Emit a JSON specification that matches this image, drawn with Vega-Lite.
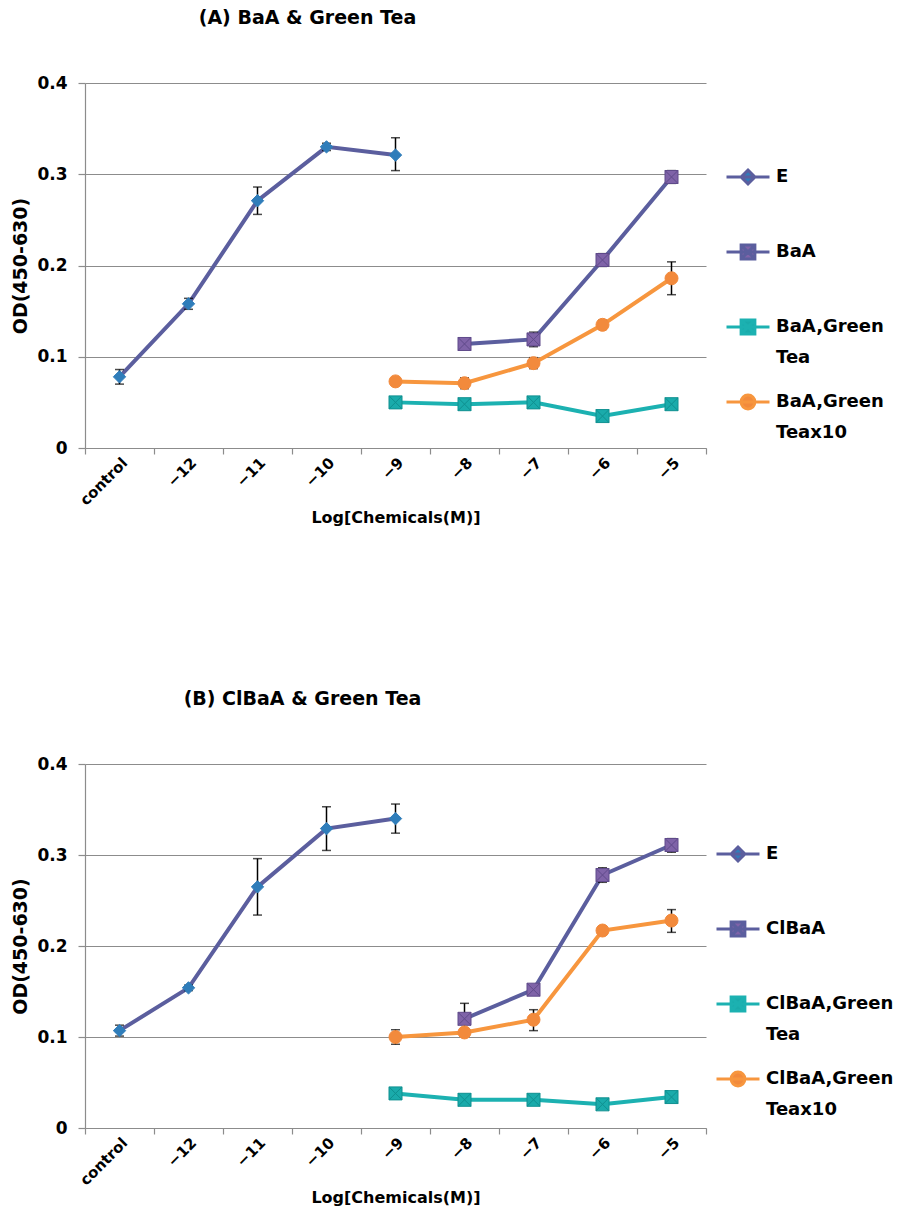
{
  "$schema": "https://vega.github.io/schema/vega-lite/v6.json",
  "padding": {"left": 11, "top": 9, "right": 0, "bottom": 0},
  "background": "white",
  "spacing": 164,
  "datasets": {
    "A": [
      {"x": "control", "s": "E", "v": 0.078, "lo": 0.070, "hi": 0.086},
      {"x": "−12", "s": "E", "v": 0.158, "lo": 0.152, "hi": 0.164},
      {"x": "−11", "s": "E", "v": 0.271, "lo": 0.256, "hi": 0.286},
      {"x": "−10", "s": "E", "v": 0.330, "lo": 0.326, "hi": 0.334},
      {"x": "−9", "s": "E", "v": 0.321, "lo": 0.304, "hi": 0.340},
      {"x": "−8", "s": "BaA", "v": 0.114, "lo": null, "hi": null},
      {"x": "−7", "s": "BaA", "v": 0.119, "lo": 0.111, "hi": 0.127},
      {"x": "−6", "s": "BaA", "v": 0.206, "lo": 0.199, "hi": 0.213},
      {"x": "−5", "s": "BaA", "v": 0.297, "lo": 0.290, "hi": 0.304},
      {"x": "−9", "s": "BaA,Green Tea", "v": 0.050, "lo": null, "hi": null},
      {"x": "−8", "s": "BaA,Green Tea", "v": 0.048, "lo": null, "hi": null},
      {"x": "−7", "s": "BaA,Green Tea", "v": 0.050, "lo": null, "hi": null},
      {"x": "−6", "s": "BaA,Green Tea", "v": 0.035, "lo": null, "hi": null},
      {"x": "−5", "s": "BaA,Green Tea", "v": 0.048, "lo": null, "hi": null},
      {"x": "−9", "s": "BaA,Green Teax10", "v": 0.073, "lo": null, "hi": null},
      {"x": "−8", "s": "BaA,Green Teax10", "v": 0.071, "lo": 0.065, "hi": 0.077},
      {"x": "−7", "s": "BaA,Green Teax10", "v": 0.093, "lo": 0.087, "hi": 0.099},
      {"x": "−6", "s": "BaA,Green Teax10", "v": 0.135, "lo": 0.130, "hi": 0.140},
      {"x": "−5", "s": "BaA,Green Teax10", "v": 0.186, "lo": 0.168, "hi": 0.204}
    ],
    "B": [
      {"x": "control", "s": "E", "v": 0.107, "lo": 0.101, "hi": 0.113},
      {"x": "−12", "s": "E", "v": 0.154, "lo": 0.151, "hi": 0.157},
      {"x": "−11", "s": "E", "v": 0.265, "lo": 0.234, "hi": 0.296},
      {"x": "−10", "s": "E", "v": 0.329, "lo": 0.305, "hi": 0.353},
      {"x": "−9", "s": "E", "v": 0.340, "lo": 0.324, "hi": 0.356},
      {"x": "−8", "s": "ClBaA", "v": 0.120, "lo": 0.105, "hi": 0.137},
      {"x": "−7", "s": "ClBaA", "v": 0.152, "lo": null, "hi": null},
      {"x": "−6", "s": "ClBaA", "v": 0.278, "lo": 0.270, "hi": 0.286},
      {"x": "−5", "s": "ClBaA", "v": 0.311, "lo": 0.303, "hi": 0.318},
      {"x": "−9", "s": "ClBaA,Green Tea", "v": 0.038, "lo": null, "hi": null},
      {"x": "−8", "s": "ClBaA,Green Tea", "v": 0.031, "lo": null, "hi": null},
      {"x": "−7", "s": "ClBaA,Green Tea", "v": 0.031, "lo": null, "hi": null},
      {"x": "−6", "s": "ClBaA,Green Tea", "v": 0.026, "lo": null, "hi": null},
      {"x": "−5", "s": "ClBaA,Green Tea", "v": 0.034, "lo": null, "hi": null},
      {"x": "−9", "s": "ClBaA,Green Teax10", "v": 0.100, "lo": 0.092, "hi": 0.108},
      {"x": "−8", "s": "ClBaA,Green Teax10", "v": 0.105, "lo": null, "hi": null},
      {"x": "−7", "s": "ClBaA,Green Teax10", "v": 0.119, "lo": 0.107, "hi": 0.130},
      {"x": "−6", "s": "ClBaA,Green Teax10", "v": 0.217, "lo": 0.212, "hi": 0.222},
      {"x": "−5", "s": "ClBaA,Green Teax10", "v": 0.228, "lo": 0.215, "hi": 0.240}
    ]
  },
  "vconcat": [
    {
      "data": {"name": "A"},
      "width": 621,
      "height": 365,
      "title": {"text": "(A) BaA & Green Tea", "anchor": "middle", "frame": "group", "dx": -88, "offset": 46, "font": "DejaVu Sans", "fontSize": 19, "fontWeight": "bold", "color": "black"},
      "encoding": {
        "x": {"field": "x", "type": "nominal", "scale": {"type": "band", "paddingInner": 0, "paddingOuter": 0, "domain": ["control", "−12", "−11", "−10", "−9", "−8", "−7", "−6", "−5"]},
          "axis": {"title": "Log[Chemicals(M)]", "labelAngle": -45, "tickBand": "extent", "grid": false, "tickSize": 6, "labelFontSize": 15, "titleFontSize": 16, "labelPadding": 1, "titlePadding": 2}},
        "y": {"field": "v", "type": "quantitative", "scale": {"domain": [0, 0.4], "nice": false},
          "axis": {"title": "OD(450-630)", "values": [0, 0.1, 0.2, 0.3, 0.4], "labelExpr": "datum.value == 0 ? '0' : format(datum.value, '.1f')", "tickSize": 7, "labelPadding": 11, "labelFontSize": 17, "titleFontSize": 19, "titlePadding": 6}}
      },
      "resolve": {"scale": {"shape": "independent", "fill": "independent", "stroke": "independent"}, "legend": {"shape": "independent", "fill": "independent", "stroke": "independent"}},
      "layer": [
        {
          "mark": {"type": "line", "strokeWidth": 4},
          "encoding": {"stroke": {"field": "s", "type": "nominal", "scale": {"domain": ["E", "BaA", "BaA,Green Tea", "BaA,Green Teax10"], "range": ["#5B5E9E", "#5B5E9E", "#1CB1B1", "#F7963E"]}, "legend": null}}
        },
        {
          "transform": [{"filter": "isValid(datum.lo)"}],
          "mark": {"type": "errorbar", "ticks": {"size": 9, "color": "black", "thickness": 1.5}, "rule": {"color": "black", "strokeWidth": 1.5}},
          "encoding": {"y": {"field": "lo", "type": "quantitative"}, "y2": {"field": "hi"}}
        },
        {
          "mark": {"type": "point", "filled": true, "size": 169, "strokeWidth": 1, "opacity": 1},
          "encoding": {
            "shape": {"field": "s", "type": "nominal", "scale": {"domain": ["E", "BaA", "BaA,Green Tea", "BaA,Green Teax10"], "range": ["M0,-0.95L0.95,0L0,0.95L-0.95,0Z", "M-1,-1H1V1H-1ZM-1,-1L1,1M1,-1L-1,1", "M-1,-1H1V1H-1ZM-1,-1L1,1M1,-1L-1,1", "circle"]}, "legend": null},
            "fill": {"field": "s", "type": "nominal", "scale": {"domain": ["E", "BaA", "BaA,Green Tea", "BaA,Green Teax10"], "range": ["#2F7DBA", "#7F63A8", "#1AABAB", "#F28A3C"]}, "legend": null},
            "stroke": {"field": "s", "type": "nominal", "scale": {"domain": ["E", "BaA", "BaA,Green Tea", "BaA,Green Teax10"], "range": ["#2F7DBA", "#5F4A8A", "#0F9090", "#F28A3C"]}, "legend": null}
          }
        },
        {
          "transform": [{"filter": "datum.v < -1"}],
          "mark": {"type": "point", "filled": true, "size": 1849, "strokeWidth": 3, "opacity": 1},
          "encoding": {
            "shape": {"field": "s", "type": "nominal", "scale": {"domain": ["E", "BaA", "BaA,Green Tea", "BaA,Green Teax10"], "range": ["M-1,0H1M0,-0.32L0.32,0L0,0.32L-0.32,0Z", "M-1,0H1M-0.32,-0.32H0.32V0.32H-0.32ZM-0.32,-0.32L0.32,0.32M0.32,-0.32L-0.32,0.32", "M-1,0H1M-0.32,-0.32H0.32V0.32H-0.32ZM-0.32,-0.32L0.32,0.32M0.32,-0.32L-0.32,0.32", "M-1,0H1M-0.32,0A0.32,0.32 0 1,0 0.32,0A0.32,0.32 0 1,0 -0.32,0Z"]},
              "legend": {"title": null, "orient": "none", "legendX": 640, "legendY": 71, "padding": 0, "rowPadding": 12, "labelOffset": 5, "labelFont": "DejaVu Sans", "labelFontWeight": "bold", "labelFontSize": 18, "labelColor": "black", "labelLimit": 300, "symbolSize": 1849, "symbolStrokeWidth": 3, "labelExpr": "datum.label == 'BaA,Green Tea' ? ['BaA,Green', 'Tea'] : datum.label == 'BaA,Green Teax10' ? ['BaA,Green', 'Teax10'] : [datum.label, '']"}},
            "fill": {"field": "s", "type": "nominal", "scale": {"domain": ["E", "BaA", "BaA,Green Tea", "BaA,Green Teax10"], "range": ["#2F7DBA", "#7F63A8", "#1AABAB", "#F28A3C"]},
              "legend": {"title": null, "orient": "none", "legendX": 640, "legendY": 71, "padding": 0, "rowPadding": 12, "labelOffset": 5, "labelFont": "DejaVu Sans", "labelFontWeight": "bold", "labelFontSize": 18, "labelColor": "black", "labelLimit": 300, "symbolSize": 1849, "symbolStrokeWidth": 3, "labelExpr": "datum.label == 'BaA,Green Tea' ? ['BaA,Green', 'Tea'] : datum.label == 'BaA,Green Teax10' ? ['BaA,Green', 'Teax10'] : [datum.label, '']"}},
            "stroke": {"field": "s", "type": "nominal", "scale": {"domain": ["E", "BaA", "BaA,Green Tea", "BaA,Green Teax10"], "range": ["#5B5E9E", "#5B5E9E", "#1CB1B1", "#F7963E"]},
              "legend": {"title": null, "orient": "none", "legendX": 640, "legendY": 71, "padding": 0, "rowPadding": 12, "labelOffset": 5, "labelFont": "DejaVu Sans", "labelFontWeight": "bold", "labelFontSize": 18, "labelColor": "black", "labelLimit": 300, "symbolSize": 1849, "symbolStrokeWidth": 3, "labelExpr": "datum.label == 'BaA,Green Tea' ? ['BaA,Green', 'Tea'] : datum.label == 'BaA,Green Teax10' ? ['BaA,Green', 'Teax10'] : [datum.label, '']"}}
          }
        }
      ]
    },
    {
      "data": {"name": "B"},
      "width": 621,
      "height": 364,
      "title": {"text": "(B) ClBaA & Green Tea", "anchor": "middle", "frame": "group", "dx": -93, "offset": 46, "font": "DejaVu Sans", "fontSize": 19, "fontWeight": "bold", "color": "black"},
      "encoding": {
        "x": {"field": "x", "type": "nominal", "scale": {"type": "band", "paddingInner": 0, "paddingOuter": 0, "domain": ["control", "−12", "−11", "−10", "−9", "−8", "−7", "−6", "−5"]},
          "axis": {"title": "Log[Chemicals(M)]", "labelAngle": -45, "tickBand": "extent", "grid": false, "tickSize": 6, "labelFontSize": 15, "titleFontSize": 16, "labelPadding": 1, "titlePadding": 2}},
        "y": {"field": "v", "type": "quantitative", "scale": {"domain": [0, 0.4], "nice": false},
          "axis": {"title": "OD(450-630)", "values": [0, 0.1, 0.2, 0.3, 0.4], "labelExpr": "datum.value == 0 ? '0' : format(datum.value, '.1f')", "tickSize": 7, "labelPadding": 11, "labelFontSize": 17, "titleFontSize": 19, "titlePadding": 6}}
      },
      "resolve": {"scale": {"shape": "independent", "fill": "independent", "stroke": "independent"}, "legend": {"shape": "independent", "fill": "independent", "stroke": "independent"}},
      "layer": [
        {
          "mark": {"type": "line", "strokeWidth": 4},
          "encoding": {"stroke": {"field": "s", "type": "nominal", "scale": {"domain": ["E", "ClBaA", "ClBaA,Green Tea", "ClBaA,Green Teax10"], "range": ["#5B5E9E", "#5B5E9E", "#1CB1B1", "#F7963E"]}, "legend": null}}
        },
        {
          "transform": [{"filter": "isValid(datum.lo)"}],
          "mark": {"type": "errorbar", "ticks": {"size": 9, "color": "black", "thickness": 1.5}, "rule": {"color": "black", "strokeWidth": 1.5}},
          "encoding": {"y": {"field": "lo", "type": "quantitative"}, "y2": {"field": "hi"}}
        },
        {
          "mark": {"type": "point", "filled": true, "size": 169, "strokeWidth": 1, "opacity": 1},
          "encoding": {
            "shape": {"field": "s", "type": "nominal", "scale": {"domain": ["E", "ClBaA", "ClBaA,Green Tea", "ClBaA,Green Teax10"], "range": ["M0,-0.95L0.95,0L0,0.95L-0.95,0Z", "M-1,-1H1V1H-1ZM-1,-1L1,1M1,-1L-1,1", "M-1,-1H1V1H-1ZM-1,-1L1,1M1,-1L-1,1", "circle"]}, "legend": null},
            "fill": {"field": "s", "type": "nominal", "scale": {"domain": ["E", "ClBaA", "ClBaA,Green Tea", "ClBaA,Green Teax10"], "range": ["#2F7DBA", "#7F63A8", "#1AABAB", "#F28A3C"]}, "legend": null},
            "stroke": {"field": "s", "type": "nominal", "scale": {"domain": ["E", "ClBaA", "ClBaA,Green Tea", "ClBaA,Green Teax10"], "range": ["#2F7DBA", "#5F4A8A", "#0F9090", "#F28A3C"]}, "legend": null}
          }
        },
        {
          "transform": [{"filter": "datum.v < -1"}],
          "mark": {"type": "point", "filled": true, "size": 1849, "strokeWidth": 3, "opacity": 1},
          "encoding": {
            "shape": {"field": "s", "type": "nominal", "scale": {"domain": ["E", "ClBaA", "ClBaA,Green Tea", "ClBaA,Green Teax10"], "range": ["M-1,0H1M0,-0.32L0.32,0L0,0.32L-0.32,0Z", "M-1,0H1M-0.32,-0.32H0.32V0.32H-0.32ZM-0.32,-0.32L0.32,0.32M0.32,-0.32L-0.32,0.32", "M-1,0H1M-0.32,-0.32H0.32V0.32H-0.32ZM-0.32,-0.32L0.32,0.32M0.32,-0.32L-0.32,0.32", "M-1,0H1M-0.32,0A0.32,0.32 0 1,0 0.32,0A0.32,0.32 0 1,0 -0.32,0Z"]},
              "legend": {"title": null, "orient": "none", "legendX": 630, "legendY": 67, "padding": 0, "rowPadding": 12, "labelOffset": 5, "labelFont": "DejaVu Sans", "labelFontWeight": "bold", "labelFontSize": 18, "labelColor": "black", "labelLimit": 300, "symbolSize": 1849, "symbolStrokeWidth": 3, "labelExpr": "datum.label == 'ClBaA,Green Tea' ? ['ClBaA,Green', 'Tea'] : datum.label == 'ClBaA,Green Teax10' ? ['ClBaA,Green', 'Teax10'] : [datum.label, '']"}},
            "fill": {"field": "s", "type": "nominal", "scale": {"domain": ["E", "ClBaA", "ClBaA,Green Tea", "ClBaA,Green Teax10"], "range": ["#2F7DBA", "#7F63A8", "#1AABAB", "#F28A3C"]},
              "legend": {"title": null, "orient": "none", "legendX": 630, "legendY": 67, "padding": 0, "rowPadding": 12, "labelOffset": 5, "labelFont": "DejaVu Sans", "labelFontWeight": "bold", "labelFontSize": 18, "labelColor": "black", "labelLimit": 300, "symbolSize": 1849, "symbolStrokeWidth": 3, "labelExpr": "datum.label == 'ClBaA,Green Tea' ? ['ClBaA,Green', 'Tea'] : datum.label == 'ClBaA,Green Teax10' ? ['ClBaA,Green', 'Teax10'] : [datum.label, '']"}},
            "stroke": {"field": "s", "type": "nominal", "scale": {"domain": ["E", "ClBaA", "ClBaA,Green Tea", "ClBaA,Green Teax10"], "range": ["#5B5E9E", "#5B5E9E", "#1CB1B1", "#F7963E"]},
              "legend": {"title": null, "orient": "none", "legendX": 630, "legendY": 67, "padding": 0, "rowPadding": 12, "labelOffset": 5, "labelFont": "DejaVu Sans", "labelFontWeight": "bold", "labelFontSize": 18, "labelColor": "black", "labelLimit": 300, "symbolSize": 1849, "symbolStrokeWidth": 3, "labelExpr": "datum.label == 'ClBaA,Green Tea' ? ['ClBaA,Green', 'Tea'] : datum.label == 'ClBaA,Green Teax10' ? ['ClBaA,Green', 'Teax10'] : [datum.label, '']"}}
          }
        }
      ]
    }
  ],
  "config": {
    "view": {"stroke": null},
    "style": {"guide-label": {"lineHeight": 31}},
    "axis": {"labelFont": "DejaVu Sans", "labelFontWeight": "bold", "titleFont": "DejaVu Sans", "titleFontWeight": "bold", "labelColor": "black", "titleColor": "black", "domainColor": "#8c8c8c", "tickColor": "#8c8c8c", "gridColor": "#8c8c8c", "domainWidth": 1.2, "gridWidth": 1.2, "tickWidth": 1.2}
  }
}
